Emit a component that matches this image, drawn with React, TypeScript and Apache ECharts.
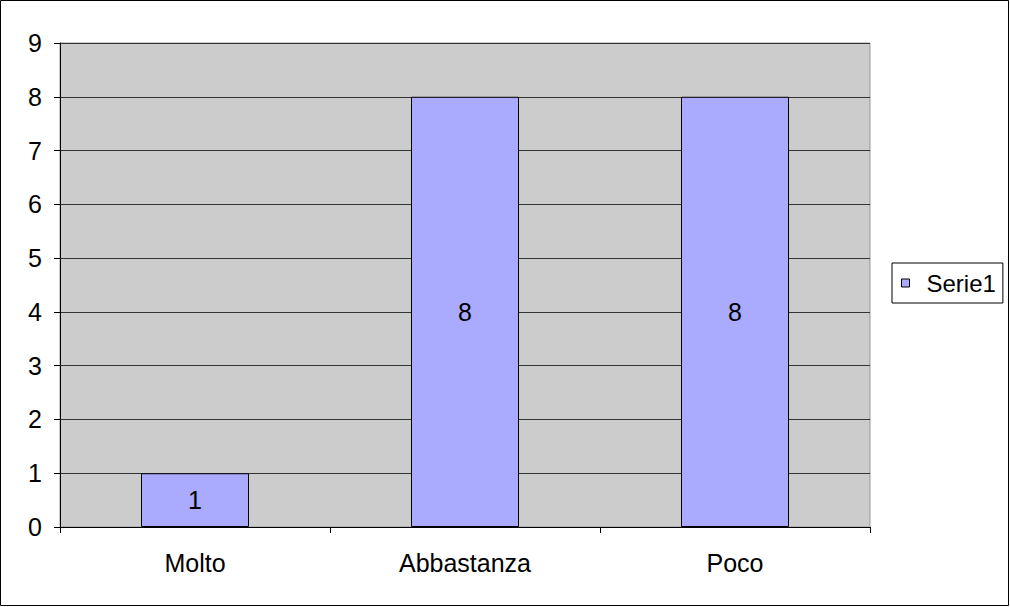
import React, { useEffect, useRef } from "react";
import * as echarts from "echarts";

const categories = ["Molto", "Abbastanza", "Poco"];
const serieName = "Serie1";
const values = [1, 8, 8];
const yMin = 0;
const yMax = 9;
const yInterval = 1;

export default function App() {
  const ref = useRef<HTMLDivElement>(null);
  useEffect(() => {
    document.body.style.margin = "0";
    const chart = echarts.init(ref.current!, null, { renderer: "svg" });
    const font = "Arial";
    const fs = 25;
    chart.setOption({
      animation: false,
      backgroundColor: "#ffffff",
      textStyle: { fontFamily: font },
      graphic: [
        {
          type: "rect",
          shape: { x: 0.5, y: 0.5, width: 1008, height: 605 },
          style: { fill: "none", stroke: "#000", lineWidth: 1 },
          silent: true,
          z: 100,
        },
      ],
      grid: {
        left: 60,
        top: 43,
        width: 810,
        height: 484,
        show: true,
        backgroundColor: "#cccccc",
        borderColor: "#999999",
        borderWidth: 1,
      },
      legend: {
        left: 892,
        top: 263,
        orient: "vertical",
        data: [serieName],
        icon: "rect",
        itemWidth: 8,
        itemHeight: 8,
        itemGap: 4,
        padding: [8, 7, 8, 9],
        borderColor: "#000",
        borderWidth: 1,
        backgroundColor: "#fff",
        textStyle: { fontSize: 24, color: "#000", fontFamily: font, padding: [0, 0, 0, 12] },
        itemStyle: { borderColor: "#000", borderWidth: 1 },
      },
      xAxis: {
        type: "category",
        data: categories,
        axisLine: { show: true, lineStyle: { color: "#000", width: 1 } },
        axisTick: { show: true, length: 6, lineStyle: { color: "#000" } },
        axisLabel: { fontSize: fs, color: "#000", margin: 23, fontFamily: font },
        splitLine: { show: false },
      },
      yAxis: {
        type: "value",
        min: yMin,
        max: yMax,
        interval: yInterval,
        axisLine: { show: true, lineStyle: { color: "#000", width: 1 } },
        axisTick: { show: true, length: 6, lineStyle: { color: "#000" } },
        axisLabel: { fontSize: fs, color: "#000", margin: 18, fontFamily: font },
        splitLine: { show: true, lineStyle: { color: "#333", width: 1 } },
      },
      series: [
        {
          name: serieName,
          type: "bar",
          data: values,
          barWidth: "40%",
          itemStyle: { color: "#aaaaff", borderColor: "#000", borderWidth: 1 },
          label: {
            show: true,
            position: "inside",
            fontSize: fs,
            color: "#000",
            fontFamily: font,
          },
        },
      ],
    });
    return () => chart.dispose();
  }, []);
  return <div ref={ref} style={{ width: 1010, height: 607 }} />;
}
